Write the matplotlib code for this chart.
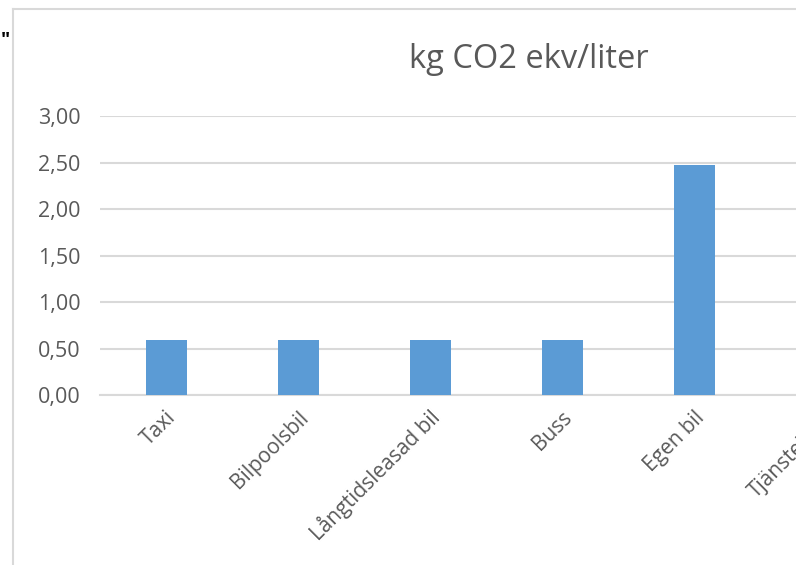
import matplotlib.pyplot as plt
import matplotlib.transforms as mtransforms
import numpy as np

# chart data (last category is cut off at the right edge of the screenshot)
categories = ["Taxi", "Bilpoolsbil", "Långtidsleasad bil", "Buss", "Egen bil", "Tjänstebilar"]
values = [0.59, 0.59, 0.59, 0.59, 2.47, 0.59]
yticks = [0.0, 0.5, 1.0, 1.5, 2.0, 2.5, 3.0]

W, H = 796, 565
fig = plt.figure(figsize=(W / 100, H / 100), dpi=100)
plt.rcParams['font.family'] = ['Open Sans', 'DejaVu Sans']

grey_text = '#595959'
grid_col = '#d9d9d9'

# plot area: x from 100px, one category = 132px, y 0 at 395px, 3 at 116px
left_px, cat_px = 100, 132
x0 = left_px / W
w = len(categories) * cat_px / W
y0 = (H - 395) / H
h = (395 - 116) / H
ax = fig.add_axes([x0, y0, w, h])

x = np.arange(len(categories))
ax.bar(x, values, width=41 / cat_px, color='#5b9bd5', zorder=3)

ax.set_xlim(-0.5, len(categories) - 0.5)
ax.set_ylim(0, 3.0)
ax.set_yticks(yticks)
ax.set_yticklabels([f"{v:.2f}".replace('.', ',') for v in yticks])
ax.yaxis.grid(True, color=grid_col, linewidth=1.5, zorder=0)
for s in ['top', 'right', 'left']:
    ax.spines[s].set_visible(False)
ax.spines['bottom'].set_color(grid_col)
ax.spines['bottom'].set_linewidth(1.5)
ax.tick_params(axis='both', length=0, colors=grey_text, labelsize=15.5)
ax.tick_params(axis='y', pad=14)

ax.set_xticks(x)
ax.set_xticklabels(categories, rotation=45, ha='right', va='center',
                   rotation_mode='anchor')
ax.tick_params(axis='x', pad=14, labelsize=15)
shift = mtransforms.ScaledTranslation(7 / 100, 0, fig.dpi_scale_trans)
for lbl in ax.get_xticklabels():
    lbl.set_transform(lbl.get_transform() + shift)

# chart title
fig.text(529 / W, 1 - 60 / H, "kg CO2 ekv/liter", ha='center', va='center',
         fontsize=23.5, color=grey_text)

# chart area border (only left and top visible in the crop)
fig.add_artist(plt.Line2D([13 / W, 13 / W], [0, 1 - 9 / H], color=grid_col,
                          linewidth=1.5, transform=fig.transFigure))
fig.add_artist(plt.Line2D([13 / W, 1], [1 - 9 / H, 1 - 9 / H], color=grid_col,
                          linewidth=1.5, transform=fig.transFigure))
fig.text(1 / W, 1 - 41 / H, '"', ha='left', va='center', fontsize=14,
         color='black', fontweight='bold')

fig.savefig('out.png', dpi=100)
